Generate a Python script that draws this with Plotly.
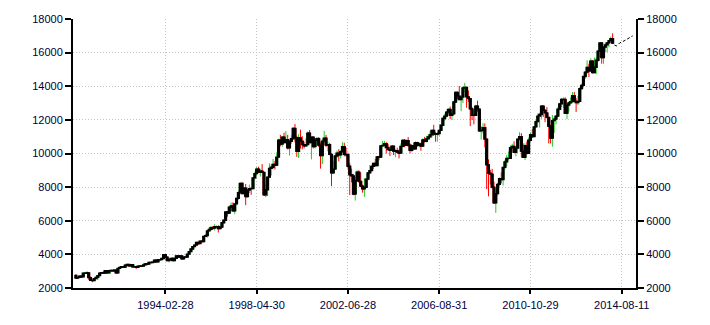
import plotly.graph_objects as go

# Monthly DJIA-style OHLC, Jan 1990 .. Jul 2014
opens = [
 2753, 2591, 2627, 2707, 2657, 2877, 2881, 2905, 2615, 2453, 2442, 2560,
 2634, 2736, 2882, 2914, 2888, 3028, 2907, 3025, 3044, 3017, 3069, 2895,
 3169, 3224, 3268, 3236, 3359, 3397, 3319, 3394, 3257, 3272, 3226, 3305,
 3301, 3310, 3371, 3435, 3428, 3527, 3516, 3540, 3651, 3555, 3681, 3684,
 3754, 3978, 3832, 3636, 3682, 3758, 3625, 3765, 3913, 3843, 3908, 3739,
 3834, 3844, 4011, 4158, 4321, 4465, 4556, 4709, 4647, 4789, 4756, 5075,
 5117, 5395, 5486, 5588, 5569, 5643, 5655, 5529, 5616, 5882, 6029, 6522,
 6448, 6813, 6878, 6584, 7009, 7331, 7673, 8223, 7622, 7945, 7442, 7823,
 7908, 7907, 8546, 8800, 9063, 8900, 8952, 8883, 7539, 7843, 8592, 9117,
 9181, 9359, 9307, 9786, 10789, 10560, 10971, 10655, 10829, 10337, 10729, 10878,
 11497, 10941, 10128, 10922, 10734, 10522, 10448, 10522, 11215, 10651, 10971, 10415,
 10788, 10887, 10495, 9879, 10735, 10912, 10502, 10523, 9950, 8848, 9075, 9852,
 10022, 9920, 10106, 10404, 9946, 9925, 9243, 8737, 8664, 7592, 8397, 8896,
 8342, 8054, 7891, 7992, 8480, 8850, 8985, 9234, 9416, 9275, 9801, 9782,
 10454, 10488, 10584, 10358, 10226, 10188, 10435, 10140, 10174, 10080, 10027, 10428,
 10783, 10490, 10766, 10504, 10193, 10467, 10275, 10641, 10482, 10569, 10440, 10806,
 10718, 10865, 10993, 11109, 11367, 11168, 11150, 11186, 11381, 11679, 12081, 12222,
 12463, 12622, 12269, 12354, 13063, 13628, 13409, 13212, 13358, 13896, 13930, 13372,
 13265, 12650, 12266, 12263, 12820, 12638, 11350, 11378, 11544, 10851, 9325, 8829,
 8776, 8001, 7063, 7609, 8168, 8500, 8447, 9172, 9496, 9712, 9713, 10345,
 10428, 10067, 10325, 10857, 11009, 10137, 9774, 10466, 10015, 10788, 11118, 11006,
 11578, 11892, 12226, 12320, 12811, 12570, 12414, 12143, 11614, 10913, 11955, 12046,
 12218, 12633, 12952, 13212, 13214, 12393, 12880, 13009, 13091, 13437, 13096, 13026,
 13104, 13861, 14054, 14579, 14840, 15116, 14910, 15500, 14810, 15130, 15546, 16086,
 16577, 15699, 16322, 16458, 16581, 16717, 16827,
]
highs = [
 2811, 2660, 2740, 2766, 2896, 2935, 3000, 2911, 2680, 2520, 2570, 2680,
 2760, 2955, 2955, 3005, 3060, 3050, 3055, 3070, 3050, 3080, 3075, 3180,
 3290, 3290, 3300, 3380, 3420, 3410, 3420, 3400, 3400, 3290, 3320, 3340,
 3330, 3470, 3490, 3480, 3560, 3540, 3580, 3660, 3660, 3700, 3720, 3800,
 3990, 3990, 3890, 3720, 3780, 3830, 3790, 3920, 3960, 3950, 3920, 3870,
 3900, 4020, 4170, 4330, 4470, 4600, 4730, 4720, 4800, 4810, 5110, 5220,
 5400, 5640, 5690, 5690, 5800, 5720, 5730, 5730, 5900, 6100, 6560, 6580,
 6880, 7080, 7090, 7040, 7390, 7800, 8260, 8290, 8000, 8190, 7890, 8150,
 7990, 8570, 8920, 9190, 9220, 9090, 9370, 8900, 8160, 8640, 9420, 9380,
 9670, 9560, 10070, 10880, 11110, 11000, 11230, 11330, 11110, 10770, 11090, 11570,
 11750, 11050, 11150, 11420, 11030, 10700, 10900, 11310, 11400, 10990, 11010, 10900,
 10990, 10980, 10660, 10870, 11350, 11100, 10700, 10630, 10030, 9560, 9900, 10180,
 10260, 10200, 10670, 10640, 10350, 10050, 9440, 9100, 8780, 8600, 9000, 9000,
 8870, 8160, 8520, 8530, 8880, 9320, 9320, 9430, 9680, 9850, 9860, 10460,
 10750, 10750, 10680, 10570, 10290, 10480, 10450, 10250, 10350, 10240, 10600, 10870,
 10860, 10840, 10980, 10600, 10550, 10650, 10720, 10700, 10700, 10640, 10900, 10990,
 11050, 11140, 11330, 11420, 11710, 11270, 11290, 11420, 11720, 12170, 12360, 12530,
 12680, 12790, 12550, 13140, 13700, 13690, 14020, 13460, 14000, 14200, 13930, 13750,
 13280, 12770, 12620, 12900, 13140, 12660, 11630, 11800, 11790, 10890, 9650, 9030,
 9090, 8320, 7930, 8260, 8580, 8880, 9190, 9630, 9920, 10120, 10480, 10580,
 10730, 10420, 10910, 11260, 11210, 10600, 10600, 10720, 10950, 11260, 11450, 11630,
 11990, 12390, 12420, 12880, 12880, 12630, 12760, 12180, 11720, 12290, 12200, 12290,
 12760, 13010, 13300, 13340, 13340, 12900, 13100, 13330, 13650, 13660, 13290, 13430,
 13970, 14150, 14590, 14890, 15540, 15340, 15660, 15560, 15710, 15720, 16170, 16590,
 16590, 16400, 16590, 16630, 16740, 16960, 17150,
]
lows = [
 2543, 2565, 2610, 2618, 2650, 2818, 2860, 2483, 2430, 2344, 2430, 2540,
 2470, 2720, 2830, 2880, 2860, 2880, 2880, 2860, 2990, 2960, 2830, 2860,
 3170, 3200, 3210, 3180, 3330, 3270, 3290, 3230, 3260, 3130, 3200, 3260,
 3240, 3300, 3350, 3350, 3410, 3470, 3480, 3530, 3530, 3560, 3640, 3680,
 3750, 3810, 3590, 3520, 3620, 3620, 3620, 3740, 3820, 3780, 3670, 3680,
 3810, 3820, 3980, 4150, 4310, 4440, 4540, 4560, 4630, 4700, 4740, 5050,
 5000, 5380, 5420, 5450, 5420, 5600, 5300, 5500, 5580, 5850, 6000, 6240,
 6440, 6750, 6560, 6390, 6950, 7250, 7650, 7600, 7600, 6930, 7380, 7650,
 7540, 7900, 8470, 8730, 8850, 8630, 8880, 7500, 7400, 7470, 8550, 8690,
 9050, 9050, 9240, 9790, 10430, 10400, 10650, 10640, 10240, 9880, 10580, 10900,
 10660, 9800, 9730, 10300, 10250, 10300, 10400, 10580, 10640, 9650, 10300, 10300,
 10460, 10390, 9100, 9380, 10640, 10380, 10130, 9900, 8060, 8800, 9070, 9740,
 9530, 9700, 10050, 9830, 9810, 9100, 7530, 8280, 7520, 7200, 8300, 8260,
 7990, 7670, 7420, 7990, 8400, 8810, 8970, 9070, 9240, 9260, 9600, 9750,
 10400, 10430, 10000, 10200, 9850, 10180, 9910, 9780, 10000, 9710, 10020, 10350,
 10370, 10450, 10400, 10010, 10090, 10250, 10250, 10400, 10360, 10160, 10400, 10650,
 10660, 10820, 10900, 10950, 11050, 10700, 10700, 11040, 11360, 11660, 11950, 12190,
 12350, 12050, 12000, 12350, 13000, 13230, 13210, 12520, 13000, 13650, 12720, 13060,
 11630, 11990, 11730, 12260, 12480, 11290, 10830, 11180, 10360, 7880, 7450, 8150,
 7910, 7000, 6470, 7490, 8040, 8220, 8090, 9050, 9250, 9600, 9680, 10250,
 10030, 9830, 10320, 10780, 9770, 9740, 9610, 9930, 10010, 10710, 10930, 11000,
 11570, 11890, 11550, 12070, 12180, 11860, 12090, 10600, 10600, 10400, 11230, 11730,
 12220, 12630, 12760, 12710, 12390, 12040, 12490, 12960, 13020, 13050, 12470, 12880,
 13100, 13780, 13940, 14440, 14740, 14550, 14860, 14760, 14780, 14720, 15450, 15700,
 15340, 15340, 16020, 16020, 16320, 16670, 16560,
]
closes = [
 2591, 2627, 2707, 2657, 2877, 2881, 2905, 2615, 2453, 2442, 2560, 2634,
 2736, 2882, 2914, 2888, 3028, 2907, 3025, 3044, 3017, 3069, 2895, 3169,
 3224, 3268, 3236, 3359, 3397, 3319, 3394, 3257, 3272, 3226, 3305, 3301,
 3310, 3371, 3435, 3428, 3527, 3516, 3540, 3651, 3555, 3681, 3684, 3754,
 3978, 3832, 3636, 3682, 3758, 3625, 3765, 3913, 3843, 3908, 3739, 3834,
 3844, 4011, 4158, 4321, 4465, 4556, 4709, 4647, 4789, 4756, 5075, 5117,
 5395, 5486, 5588, 5569, 5643, 5655, 5529, 5616, 5882, 6029, 6522, 6448,
 6813, 6878, 6584, 7009, 7331, 7673, 8223, 7622, 7945, 7442, 7823, 7908,
 7907, 8546, 8800, 9063, 8900, 8952, 8883, 7539, 7843, 8592, 9117, 9181,
 9359, 9307, 9786, 10789, 10560, 10971, 10655, 10829, 10337, 10729, 10878, 11497,
 10941, 10128, 10922, 10734, 10522, 10448, 10522, 11215, 10651, 10971, 10415, 10788,
 10887, 10495, 9879, 10735, 10912, 10502, 10523, 9950, 8848, 9075, 9852, 10022,
 9920, 10106, 10404, 9946, 9925, 9243, 8737, 8664, 7592, 8397, 8896, 8342,
 8054, 7891, 7992, 8480, 8850, 8985, 9234, 9416, 9275, 9801, 9782, 10454,
 10488, 10584, 10358, 10226, 10188, 10435, 10140, 10174, 10080, 10027, 10428, 10783,
 10490, 10766, 10504, 10193, 10467, 10275, 10641, 10482, 10569, 10440, 10806, 10718,
 10865, 10993, 11109, 11367, 11168, 11150, 11186, 11381, 11679, 12081, 12222, 12463,
 12622, 12269, 12354, 13063, 13628, 13409, 13212, 13358, 13896, 13930, 13372, 13265,
 12650, 12266, 12263, 12820, 12638, 11350, 11378, 11544, 10851, 9325, 8829, 8776,
 8001, 7063, 7609, 8168, 8500, 8447, 9172, 9496, 9712, 9713, 10345, 10428,
 10067, 10325, 10857, 11009, 10137, 9774, 10466, 10015, 10788, 11118, 11006, 11578,
 11892, 12226, 12320, 12811, 12570, 12414, 12143, 11614, 10913, 11955, 12046, 12218,
 12633, 12952, 13212, 13214, 12393, 12880, 13009, 13091, 13437, 13096, 13026, 13104,
 13861, 14054, 14579, 14840, 15116, 14910, 15500, 14810, 15130, 15546, 16086, 16577,
 15699, 16322, 16458, 16581, 16717, 16827, 16563,
]

# Forecast continuation (dashed)
forecast_values = [16450, 16400, 16480, 16590, 16620, 16680, 16710, 16780, 16870, 16950, 16990]

tick_labels = ["1994-02-28", "1998-04-30", "2002-06-28", "2006-08-31", "2010-10-29", "2014-08-11"]
tick_index = [49, 99, 149, 199, 249, 299]
y_ticks = [2000, 4000, 6000, 8000, 10000, 12000, 14000, 16000, 18000]

n = len(closes)
idx = list(range(n))
fc_idx = list(range(n, n + len(forecast_values)))

body_hi = [max(o, c) for o, c in zip(opens, closes)]
body_lo = [min(o, c) for o, c in zip(opens, closes)]

GREEN = "#22cc22"
RED = "#ff0000"
TXT = "#000038"
GRID = "#c4c4c4"

fig = go.Figure()
# wicks (coloured by direction)
fig.add_trace(go.Candlestick(
    x=idx, open=opens, high=highs, low=lows, close=closes,
    increasing=dict(line=dict(color=GREEN, width=1), fillcolor=GREEN),
    decreasing=dict(line=dict(color=RED, width=1), fillcolor=RED),
    whiskerwidth=0, showlegend=False, hoverinfo="skip",
))
# black bodies on top
fig.add_trace(go.Candlestick(
    x=idx, open=opens, high=body_hi, low=body_lo, close=closes,
    increasing=dict(line=dict(color="black", width=1.3), fillcolor="black"),
    decreasing=dict(line=dict(color="black", width=1.3), fillcolor="black"),
    whiskerwidth=0, showlegend=False, hoverinfo="skip",
))
fig.add_trace(go.Scatter(
    x=fc_idx, y=forecast_values, mode="lines",
    line=dict(color="black", width=1, dash="3px,2px"),
    showlegend=False, hoverinfo="skip",
))
fig.add_trace(go.Scatter(x=[None], y=[None], yaxis="y2", showlegend=False))

axis_font = dict(family="Liberation Sans, Arial, sans-serif", size=11, color=TXT)

fig.update_layout(
    width=710, height=325,
    margin=dict(l=73, r=74, t=19, b=37),
    paper_bgcolor="white", plot_bgcolor="white",
    boxgap=0, boxgroupgap=0,
    showlegend=False,
    xaxis=dict(
        range=[-1.6, 306.8], rangeslider=dict(visible=False),
        tickmode="array", tickvals=tick_index, ticktext=tick_labels,
        showgrid=True, gridcolor=GRID, griddash="1px,2px", gridwidth=1,
        showline=True, linecolor="black", linewidth=2,
        ticks="outside", ticklen=4, tickwidth=1.5, tickcolor="black",
        tickfont=axis_font, zeroline=False, ticklabelstandoff=2,
    ),
    yaxis=dict(
        range=[2000, 18000], tickmode="array",
        tickvals=y_ticks, ticktext=[str(v) for v in y_ticks],
        showgrid=True, gridcolor=GRID, griddash="1px,2px", gridwidth=1,
        showline=True, linecolor="black", linewidth=2,
        ticks="outside", ticklen=6, tickwidth=1.5, tickcolor="black",
        tickfont=axis_font, zeroline=False,
    ),
    yaxis2=dict(
        overlaying="y", side="right", range=[2000, 18000], tickmode="array",
        tickvals=y_ticks, ticktext=[str(v) for v in y_ticks],
        showgrid=False, showline=True, linecolor="black", linewidth=2,
        ticks="outside", ticklen=6, tickwidth=1.5, tickcolor="black",
        tickfont=axis_font, zeroline=False,
    ),
)

fig.write_html("out.html")
